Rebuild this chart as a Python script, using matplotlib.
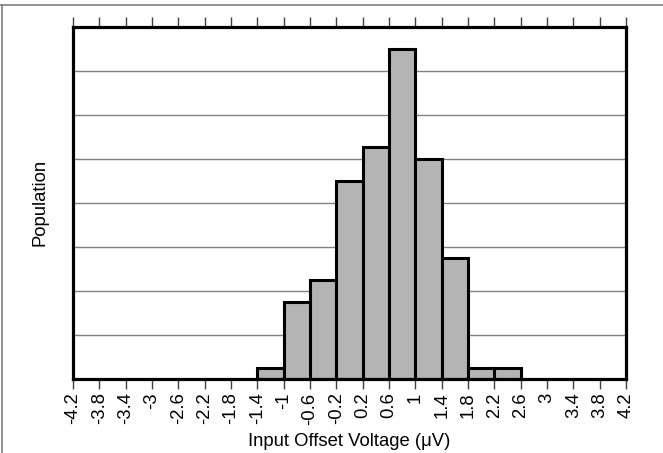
import matplotlib
matplotlib.use("Agg")
import matplotlib.pyplot as plt
from matplotlib.lines import Line2D
import numpy as np

plt.rcParams['font.family'] = ['Liberation Sans', 'DejaVu Sans']

bin_edges = [-1.4, -1.0, -0.6, -0.2, 0.2, 0.6, 1.0, 1.4, 1.8, 2.2, 2.6]
counts = [0.25, 1.75, 2.24, 4.5, 5.26, 7.5, 5.0, 2.74, 0.25, 0.25]
tick_values = [-4.2, -3.8, -3.4, -3.0, -2.6, -2.2, -1.8, -1.4, -1.0, -0.6, -0.2,
               0.2, 0.6, 1.0, 1.4, 1.8, 2.2, 2.6, 3.0, 3.4, 3.8, 4.2]
tick_labels = ["-4.2", "-3.8", "-3.4", "-3", "-2.6", "-2.2", "-1.8", "-1.4", "-1", "-0.6", "-0.2",
               "0.2", "0.6", "1", "1.4", "1.8", "2.2", "2.6", "3", "3.4", "3.8", "4.2"]
grid_levels = [1, 2, 3, 4, 5, 6, 7]

fig = plt.figure(figsize=(6.63, 4.53), dpi=100)
ax = fig.add_axes([73/663, 1-378.5/453, (626-73)/663, (378.5-27)/453])

for y in grid_levels:
    ax.axhline(y, color='#808080', lw=1.0, zorder=1)

lefts = np.array(bin_edges[:-1])
widths = np.diff(bin_edges)
ax.bar(lefts, counts, width=widths, align='edge', color='#b4b4b4',
       edgecolor='black', linewidth=2.2, zorder=2)

ax.set_xlim(-4.2, 4.2)
ax.set_ylim(0, 8)
ax.set_yticks([])
ax.set_xticks(tick_values)
ax.set_xticklabels(tick_labels, rotation=90, fontsize=13.3)
ax.tick_params(axis='x', direction='out', length=7, width=1.0, color='#404040',
               top=True, bottom=True, labeltop=False, pad=3)
for s in ax.spines.values():
    s.set_linewidth(2.3)
    s.set_color('black')
    s.set_zorder(5)

ax.set_xlabel('Input Offset Voltage (\u03bcV)', fontsize=13.3, labelpad=6)
ax.set_ylabel('Population', fontsize=13.3, labelpad=18)

fig.add_artist(Line2D([0, 1], [1-5/453, 1-5/453], color='#808080', lw=1.2, transform=fig.transFigure))
fig.add_artist(Line2D([1.5/663, 1.5/663], [0, 1-5/453], color='#808080', lw=1.2, transform=fig.transFigure))

fig.savefig('out.png', dpi=100)
